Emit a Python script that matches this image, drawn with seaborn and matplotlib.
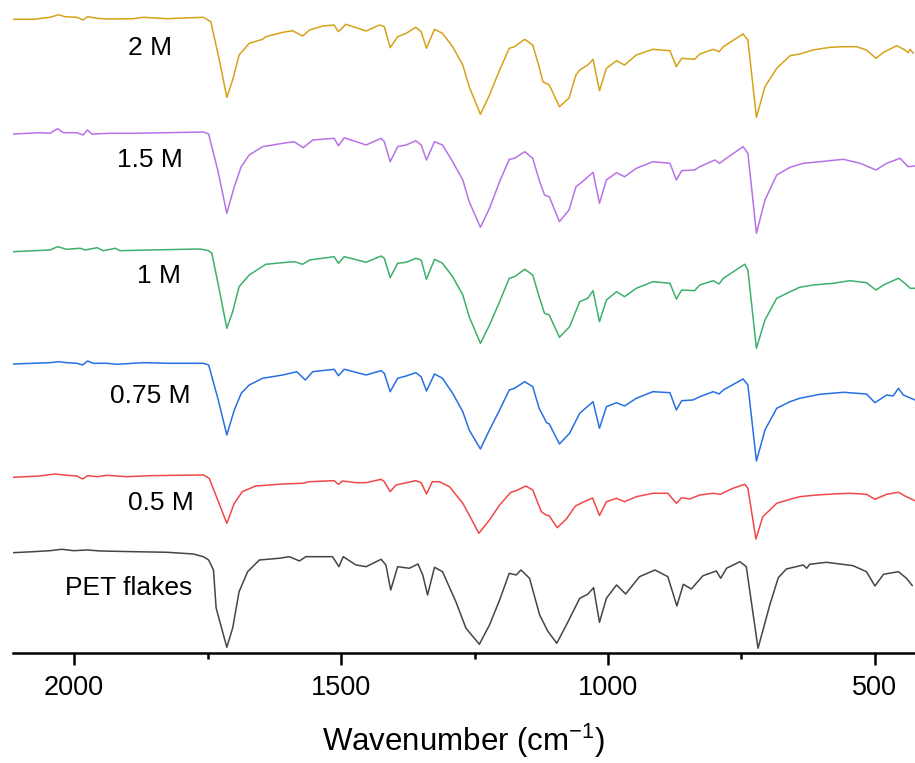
import numpy as np
import pandas as pd
import matplotlib
matplotlib.use("Agg")
import matplotlib.pyplot as plt
from matplotlib.ticker import MultipleLocator
import seaborn as sns

# ---------------- data ----------------
series_names = ["2 M", "1.5 M", "1 M", "0.75 M", "0.5 M", "PET flakes"]

wn_2M = [2114, 2076, 2045, 2029, 2017, 1995, 1983, 1975, 1957, 1939, 1889, 1870, 1826, 1758, 1744, 1728, 1714, 1703, 1691, 1672,
         1647, 1641, 1609, 1591, 1572, 1559, 1534, 1513, 1505, 1491, 1453, 1428, 1419, 1408, 1394, 1378, 1360, 1350, 1340, 1325,
         1310, 1291, 1272, 1260, 1239, 1222, 1203, 1185, 1175, 1156, 1141, 1129, 1122, 1110, 1091, 1073, 1060, 1053, 1038, 1028,
         1016, 1003, 984, 969, 947, 916, 884, 872, 862, 838, 828, 803, 792, 784, 747, 738, 722, 706, 684, 659,
         641, 616, 584, 559, 534, 516, 498, 484, 459, 444, 438, 434, 428]
T_2M = [63.37, 63.37, 63.57, 63.83, 63.63, 63.57, 63.30, 63.63, 63.47, 63.40, 63.43, 63.57, 63.43, 63.57, 63.13, 59.3, 55.57, 57.3, 59.8, 60.97,
        61.37, 61.63, 62.07, 62.23, 61.7, 62.3, 62.7, 62.8, 62.13, 62.87, 62.2, 62.8, 62.63, 60.53, 61.63, 61.97, 62.57, 62.13, 60.47, 62.37,
        61.97, 60.63, 58.8, 56.63, 53.87, 55.8, 58.3, 60.47, 60.63, 61.37, 60.8, 58.63, 57.13, 56.8, 54.63, 55.5, 57.8, 58.3, 58.8, 59.37,
        56.23, 58.47, 59.23, 58.8, 59.8, 60.37, 60.23, 58.63, 59.47, 59.37, 59.9, 60.37, 60.13, 60.63, 61.9, 61.3, 53.57, 56.63, 58.47, 59.73,
        59.9, 60.3, 60.57, 60.63, 60.63, 60.3, 59.47, 60.07, 60.73, 60.3, 60.03, 60.37, 59.97]

wn_15M = [2114, 2064, 2045, 2031, 2020, 1995, 1983, 1975, 1967, 1933, 1889, 1826, 1758, 1748, 1731, 1714, 1700, 1687, 1672, 1647,
          1609, 1588, 1571, 1553, 1513, 1505, 1494, 1453, 1425, 1419, 1408, 1394, 1378, 1360, 1350, 1340, 1325, 1310, 1291, 1272,
          1260, 1239, 1222, 1203, 1185, 1175, 1156, 1141, 1129, 1119, 1110, 1091, 1073, 1060, 1048, 1028, 1016, 1003, 984, 969,
          947, 916, 884, 872, 862, 838, 828, 800, 791, 781, 747, 738, 722, 706, 684, 659, 634, 603, 559, 528,
          498, 478, 453, 438, 425]
T_15M = [51.9, 52.03, 51.97, 52.43, 52.03, 52.03, 51.8, 52.3, 51.9, 51.97, 51.97, 52.03, 52.1, 51.9, 48.3, 43.97, 46.63, 48.63, 49.8, 50.63,
         50.97, 51.13, 50.53, 51.3, 51.47, 50.73, 51.53, 50.8, 51.47, 51.13, 49.13, 50.63, 50.8, 51.23, 50.8, 49.3, 51.13, 50.8, 49.13, 47.3,
         45.13, 42.57, 44.47, 47.13, 49.37, 49.47, 50.13, 49.47, 47.3, 45.8, 45.63, 43.13, 44.3, 46.63, 47.13, 48.07, 44.97, 47.3, 48.03, 47.63,
         48.47, 49.13, 48.97, 47.3, 48.23, 48.3, 48.63, 49.3, 48.97, 49.37, 50.63, 49.97, 41.97, 45.3, 47.8, 48.57, 48.97, 49.13, 49.37, 48.97,
         48.3, 48.97, 49.47, 48.63, 48.7]

wn_1M = [2114, 2045, 2031, 2014, 1989, 1979, 1957, 1945, 1923, 1914, 1858, 1764, 1748, 1742, 1728, 1714, 1703, 1691, 1672, 1641,
         1602, 1587, 1572, 1559, 1513, 1505, 1494, 1453, 1425, 1419, 1408, 1394, 1378, 1360, 1350, 1340, 1325, 1310, 1291, 1272,
         1260, 1239, 1222, 1203, 1185, 1175, 1156, 1141, 1129, 1119, 1110, 1091, 1072, 1053, 1038, 1028, 1016, 1003, 984, 969,
         947, 916, 884, 872, 862, 838, 828, 803, 792, 784, 744, 738, 722, 706, 684, 659, 641, 616, 578, 547,
         516, 498, 484, 456, 444, 434, 425]
T_1M = [40.13, 40.3, 40.63, 40.37, 40.47, 40.3, 40.53, 40.23, 40.47, 40.23, 40.3, 40.4, 40.23, 39.97, 36.3, 32.47, 34.13, 36.63, 37.8, 38.87,
        39.07, 39.13, 38.87, 39.3, 39.63, 38.97, 39.63, 39.07, 39.7, 39.47, 37.53, 38.97, 39.07, 39.47, 39.3, 37.37, 39.37, 38.97, 37.63, 35.8,
        33.63, 30.97, 32.8, 35.13, 37.47, 37.63, 38.37, 37.8, 35.63, 33.97, 33.8, 31.57, 32.63, 35.13, 35.47, 36.23, 33.13, 35.3, 36.13, 35.63,
        36.47, 37.13, 36.97, 35.4, 36.3, 36.23, 36.8, 37.23, 36.9, 37.47, 38.87, 38.3, 30.47, 33.3, 35.47, 36.13, 36.57, 36.8, 36.97, 37.23,
        37.03, 36.3, 36.8, 37.47, 36.97, 36.47, 36.47]

wn_075M = [2114, 2045, 2029, 2014, 1995, 1984, 1975, 1964, 1939, 1920, 1870, 1826, 1758, 1748, 1730, 1714, 1700, 1687, 1672, 1647,
           1609, 1583, 1567, 1553, 1513, 1505, 1494, 1453, 1425, 1419, 1408, 1394, 1378, 1360, 1350, 1340, 1325, 1310, 1291, 1272,
           1260, 1239, 1222, 1203, 1185, 1175, 1156, 1141, 1129, 1115, 1110, 1091, 1072, 1053, 1028, 1016, 1003, 984, 969, 947,
           916, 884, 872, 862, 841, 828, 803, 792, 784, 747, 738, 722, 706, 684, 659, 641, 603, 559, 516, 500,
           478, 466, 456, 447, 425]
T_075M = [28.9, 29.03, 29.13, 29.03, 28.97, 28.8, 29.2, 28.97, 28.97, 28.87, 29.03, 28.97, 28.97, 28.8, 25.3, 21.8, 24.3, 25.97, 26.8, 27.47,
          27.8, 28.13, 27.3, 28.13, 28.37, 27.73, 28.37, 27.8, 28.23, 27.97, 26.13, 27.47, 27.7, 28.03, 27.63, 26.2, 27.9, 27.47, 25.97, 24.13,
          22.3, 20.4, 22.3, 24.3, 26.3, 26.47, 27.13, 26.63, 24.47, 23.03, 22.9, 20.9, 21.97, 23.97, 25.13, 22.47, 24.63, 25.03, 24.7, 25.47,
          26.13, 26.03, 24.3, 25.23, 25.3, 25.63, 26.13, 25.9, 26.3, 27.4, 26.8, 19.2, 22.3, 24.47, 25.13, 25.47, 25.87, 26.07, 25.9, 25.03,
          25.8, 25.7, 26.47, 25.8, 25.3]

wn_05M = [2114, 2064, 2036, 2014, 1995, 1984, 1975, 1957, 1939, 1901, 1858, 1758, 1747, 1731, 1714, 1700, 1685, 1660, 1609, 1572,
          1559, 1513, 1505, 1497, 1472, 1453, 1425, 1419, 1408, 1397, 1360, 1350, 1340, 1329, 1316, 1297, 1272, 1260, 1242, 1222,
          1203, 1182, 1172, 1154, 1141, 1125, 1116, 1110, 1095, 1078, 1061, 1046, 1029, 1016, 1003, 984, 969, 947, 916, 888,
          872, 862, 847, 828, 803, 790, 766, 744, 738, 723, 710, 684, 659, 641, 609, 578, 547, 516, 500, 478,
          456, 444, 425]
T_05M = [17.57, 17.7, 17.9, 17.77, 17.7, 17.4, 17.73, 17.63, 17.77, 17.63, 17.73, 17.8, 17.47, 15.3, 12.97, 14.97, 16.13, 16.7, 16.9, 16.97,
         17.13, 17.23, 16.87, 17.2, 17.03, 17.03, 17.37, 17.13, 16.13, 16.8, 17.23, 17.03, 15.9, 17.13, 17.13, 16.63, 14.97, 13.8, 11.97, 13.3,
         14.8, 16.07, 16.23, 16.7, 16.3, 14.13, 13.8, 13.7, 12.53, 13.4, 14.7, 15.1, 15.5, 13.75, 15.13, 15.47, 15.13, 15.63, 15.97, 15.97,
         14.97, 15.53, 15.4, 15.8, 15.97, 15.87, 16.47, 16.87, 16.47, 11.4, 13.63, 14.97, 15.37, 15.63, 15.8, 15.9, 15.97, 15.87, 15.37, 15.87,
         16.07, 15.7, 15.23]

wn_PET = [2114, 2076, 2045, 2023, 2001, 1975, 1951, 1889, 1826, 1777, 1758, 1748, 1739, 1734, 1714, 1703, 1691, 1675, 1653, 1616,
          1597, 1578, 1566, 1516, 1504, 1496, 1472, 1453, 1425, 1416, 1407, 1394, 1372, 1356, 1347, 1338, 1325, 1310, 1285, 1266,
          1241, 1222, 1203, 1185, 1172, 1163, 1147, 1128, 1113, 1096, 1078, 1053, 1038, 1027, 1016, 1003, 984, 967, 941, 912,
          888, 871, 859, 844, 822, 797, 789, 778, 753, 741, 719, 697, 681, 666, 634, 628, 622, 591, 541, 516,
          500, 484, 456, 441, 430]
T_PET = [10.03, 10.13, 10.23, 10.37, 10.23, 10.3, 10.2, 10.13, 10.07, 9.9, 9.63, 9.3, 8.3, 4.5, 0.57, 2.5, 6.13, 8.13, 9.3, 9.47,
         9.63, 9.2, 9.63, 9.63, 8.63, 9.63, 8.8, 8.63, 9.37, 8.8, 6.3, 8.63, 8.47, 8.9, 7.8, 5.8, 8.57, 8.13, 5.13, 2.47,
         0.87, 2.8, 5.3, 7.97, 7.8, 8.3, 7.47, 3.8, 2.2, 0.97, 2.8, 5.47, 5.87, 6.53, 3.07, 5.47, 6.8, 5.9, 7.63, 8.3,
         7.63, 4.7, 6.87, 6.4, 7.73, 8.2, 7.47, 8.47, 9.13, 8.63, 0.47, 4.8, 7.53, 8.4, 8.8, 8.47, 8.87, 9.07, 8.73, 8.13,
         6.7, 7.87, 8.13, 7.47, 6.73]

x_ticks = [2000, 1500, 1000, 500]

# ---------------- styling / layout ----------------
colors = {"2 M": "#D5A319", "1.5 M": "#B872E6", "1 M": "#3DB06B",
          "0.75 M": "#2670E4", "0.5 M": "#F04848", "PET flakes": "#454545"}
# label anchor (wavenumber, baseline value) for each curve name
label_pos = {"2 M": (1899, 59.8), "1.5 M": (1919, 48.6), "1 M": (1882, 37.0),
             "0.75 M": (1933, 25.0), "0.5 M": (1899, 14.3), "PET flakes": (2017, 5.8)}

frames = []
for name, wn, T in [("2 M", wn_2M, T_2M), ("1.5 M", wn_15M, T_15M), ("1 M", wn_1M, T_1M),
                    ("0.75 M", wn_075M, T_075M), ("0.5 M", wn_05M, T_05M), ("PET flakes", wn_PET, T_PET)]:
    frames.append(pd.DataFrame({"wavenumber": wn, "T": T, "sample": name}))
df = pd.concat(frames, ignore_index=True)

sns.set_theme(style="white")
plt.rcParams["font.family"] = ["Liberation Sans", "DejaVu Sans"]
plt.rcParams["mathtext.fontset"] = "custom"
plt.rcParams["mathtext.rm"] = "Liberation Sans"
plt.rcParams["mathtext.it"] = "Liberation Sans:italic"
plt.rcParams["text.color"] = "black"
plt.rcParams["axes.labelcolor"] = "black"
plt.rcParams["xtick.color"] = "black"
plt.rcParams["lines.solid_joinstyle"] = "round"
plt.rcParams["lines.solid_capstyle"] = "round"

fig = plt.figure(figsize=(9.15, 7.63), dpi=100)
ax = fig.add_axes([0.0139, 0.1442, 0.9861, 0.8558])

sns.lineplot(data=df, x="wavenumber", y="T", hue="sample", hue_order=series_names,
             palette=colors, estimator=None, legend=False, linewidth=1.1, ax=ax)

for name in series_names:
    xw, yv = label_pos[name]
    ax.text(xw, yv, name, fontsize=19, color="black", ha="left", va="baseline")

ax.set_xlim(2115, 425)
ax.set_ylim(0, 65.3)
ax.set_xticks(x_ticks)
ax.xaxis.set_minor_locator(MultipleLocator(250))
ax.set_yticks([])
ax.set_ylabel("")
ax.set_xlabel("Wavenumber (cm$^{-1}$)", fontsize=22.5, labelpad=15, color="black")

for s in ["top", "left", "right"]:
    ax.spines[s].set_visible(False)
ax.spines["bottom"].set_linewidth(1.8)
ax.spines["bottom"].set_color("black")
ax.tick_params(axis="x", which="major", direction="out", length=8.5, width=1.8,
               labelsize=19.5, pad=7, colors="black", labelcolor="black", bottom=True)
ax.tick_params(axis="x", which="minor", direction="out", length=4.3, width=1.8, colors="black", bottom=True)
ax.patch.set_alpha(0)

fig.savefig("out.png", dpi=100)
